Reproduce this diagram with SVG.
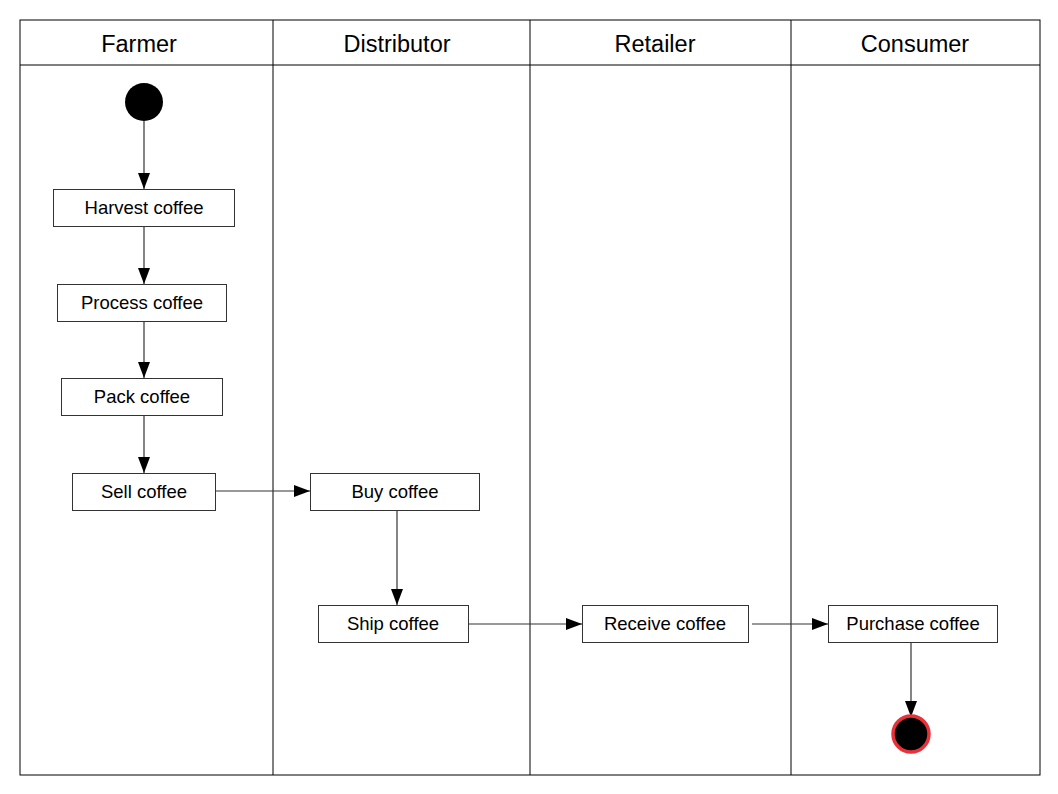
<svg xmlns="http://www.w3.org/2000/svg" width="1058" height="794" viewBox="0 0 1058 794">
<defs>
<style>
.lane{fill:none;stroke:#000;stroke-width:1}
.hdr{font-family:"Liberation Sans",Arial,sans-serif;font-size:23.5px;fill:#000;text-anchor:middle}
.box{fill:#fff;stroke:#333;stroke-width:1}
.lbl{font-family:"Liberation Sans",Arial,sans-serif;font-size:18.5px;fill:#000;text-anchor:middle}
.edge{fill:none;stroke:#333;stroke-width:1.2;marker-end:url(#arr)}
</style>
<marker id="arr" viewBox="0 0 16 12" refX="16" refY="6" markerWidth="16" markerHeight="12" markerUnits="userSpaceOnUse" orient="auto">
<path d="M0,0 L16,6 L0,12 Z" fill="#000"/>
</marker>
</defs>
<rect width="1058" height="794" fill="#fff"/>
<g id="swimlanes">
<rect class="lane" x="20" y="20" width="1020" height="755"/>
<line class="lane" x1="20" y1="65" x2="1040" y2="65" stroke="#555"/>
<line class="lane" x1="273" y1="20" x2="273" y2="775"/>
<line class="lane" x1="530" y1="20" x2="530" y2="775"/>
<line class="lane" x1="791" y1="20" x2="791" y2="775"/>
<text class="hdr" x="139" y="52">Farmer</text>
<text class="hdr" x="397" y="52">Distributor</text>
<text class="hdr" x="655" y="52">Retailer</text>
<text class="hdr" x="915" y="52">Consumer</text>
</g>
<g id="connectors">
<line class="edge" x1="144" y1="121" x2="144" y2="189"/>
<line class="edge" x1="144" y1="227" x2="144" y2="284"/>
<line class="edge" x1="144" y1="321" x2="144" y2="378"/>
<line class="edge" x1="144" y1="416" x2="144" y2="473"/>
<line class="edge" x1="216" y1="491" x2="310" y2="491"/>
<line class="edge" x1="397" y1="510" x2="397" y2="605"/>
<line class="edge" x1="469" y1="624" x2="582" y2="624"/>
<line class="edge" x1="752" y1="624" x2="828" y2="624"/>
<line class="edge" x1="911" y1="642" x2="911" y2="717"/>
</g>
<g id="start"><circle cx="144" cy="102" r="19" fill="#000"/></g>
<g id="harvest"><rect class="box" x="53.5" y="189.5" width="181" height="37"/><text class="lbl" x="144" y="214">Harvest coffee</text></g>
<g id="process"><rect class="box" x="57.5" y="284.5" width="169" height="37"/><text class="lbl" x="142" y="309">Process coffee</text></g>
<g id="pack"><rect class="box" x="61.5" y="378.5" width="161" height="37"/><text class="lbl" x="142" y="403">Pack coffee</text></g>
<g id="sell"><rect class="box" x="72.5" y="473.5" width="143" height="37"/><text class="lbl" x="144" y="498">Sell coffee</text></g>
<g id="buy"><rect class="box" x="310.5" y="473.5" width="169" height="37"/><text class="lbl" x="395" y="498">Buy coffee</text></g>
<g id="ship"><rect class="box" x="318.5" y="605.5" width="150" height="37"/><text class="lbl" x="393" y="630">Ship coffee</text></g>
<g id="receive"><rect class="box" x="582.5" y="605.5" width="166" height="37"/><text class="lbl" x="665" y="630">Receive coffee</text></g>
<g id="purchase"><rect class="box" x="828.5" y="605.5" width="169" height="37"/><text class="lbl" x="913" y="630">Purchase coffee</text></g>
<g id="end"><circle cx="911" cy="734" r="18" fill="#000" stroke="#e8323a" stroke-width="3.5"/></g>
</svg>
